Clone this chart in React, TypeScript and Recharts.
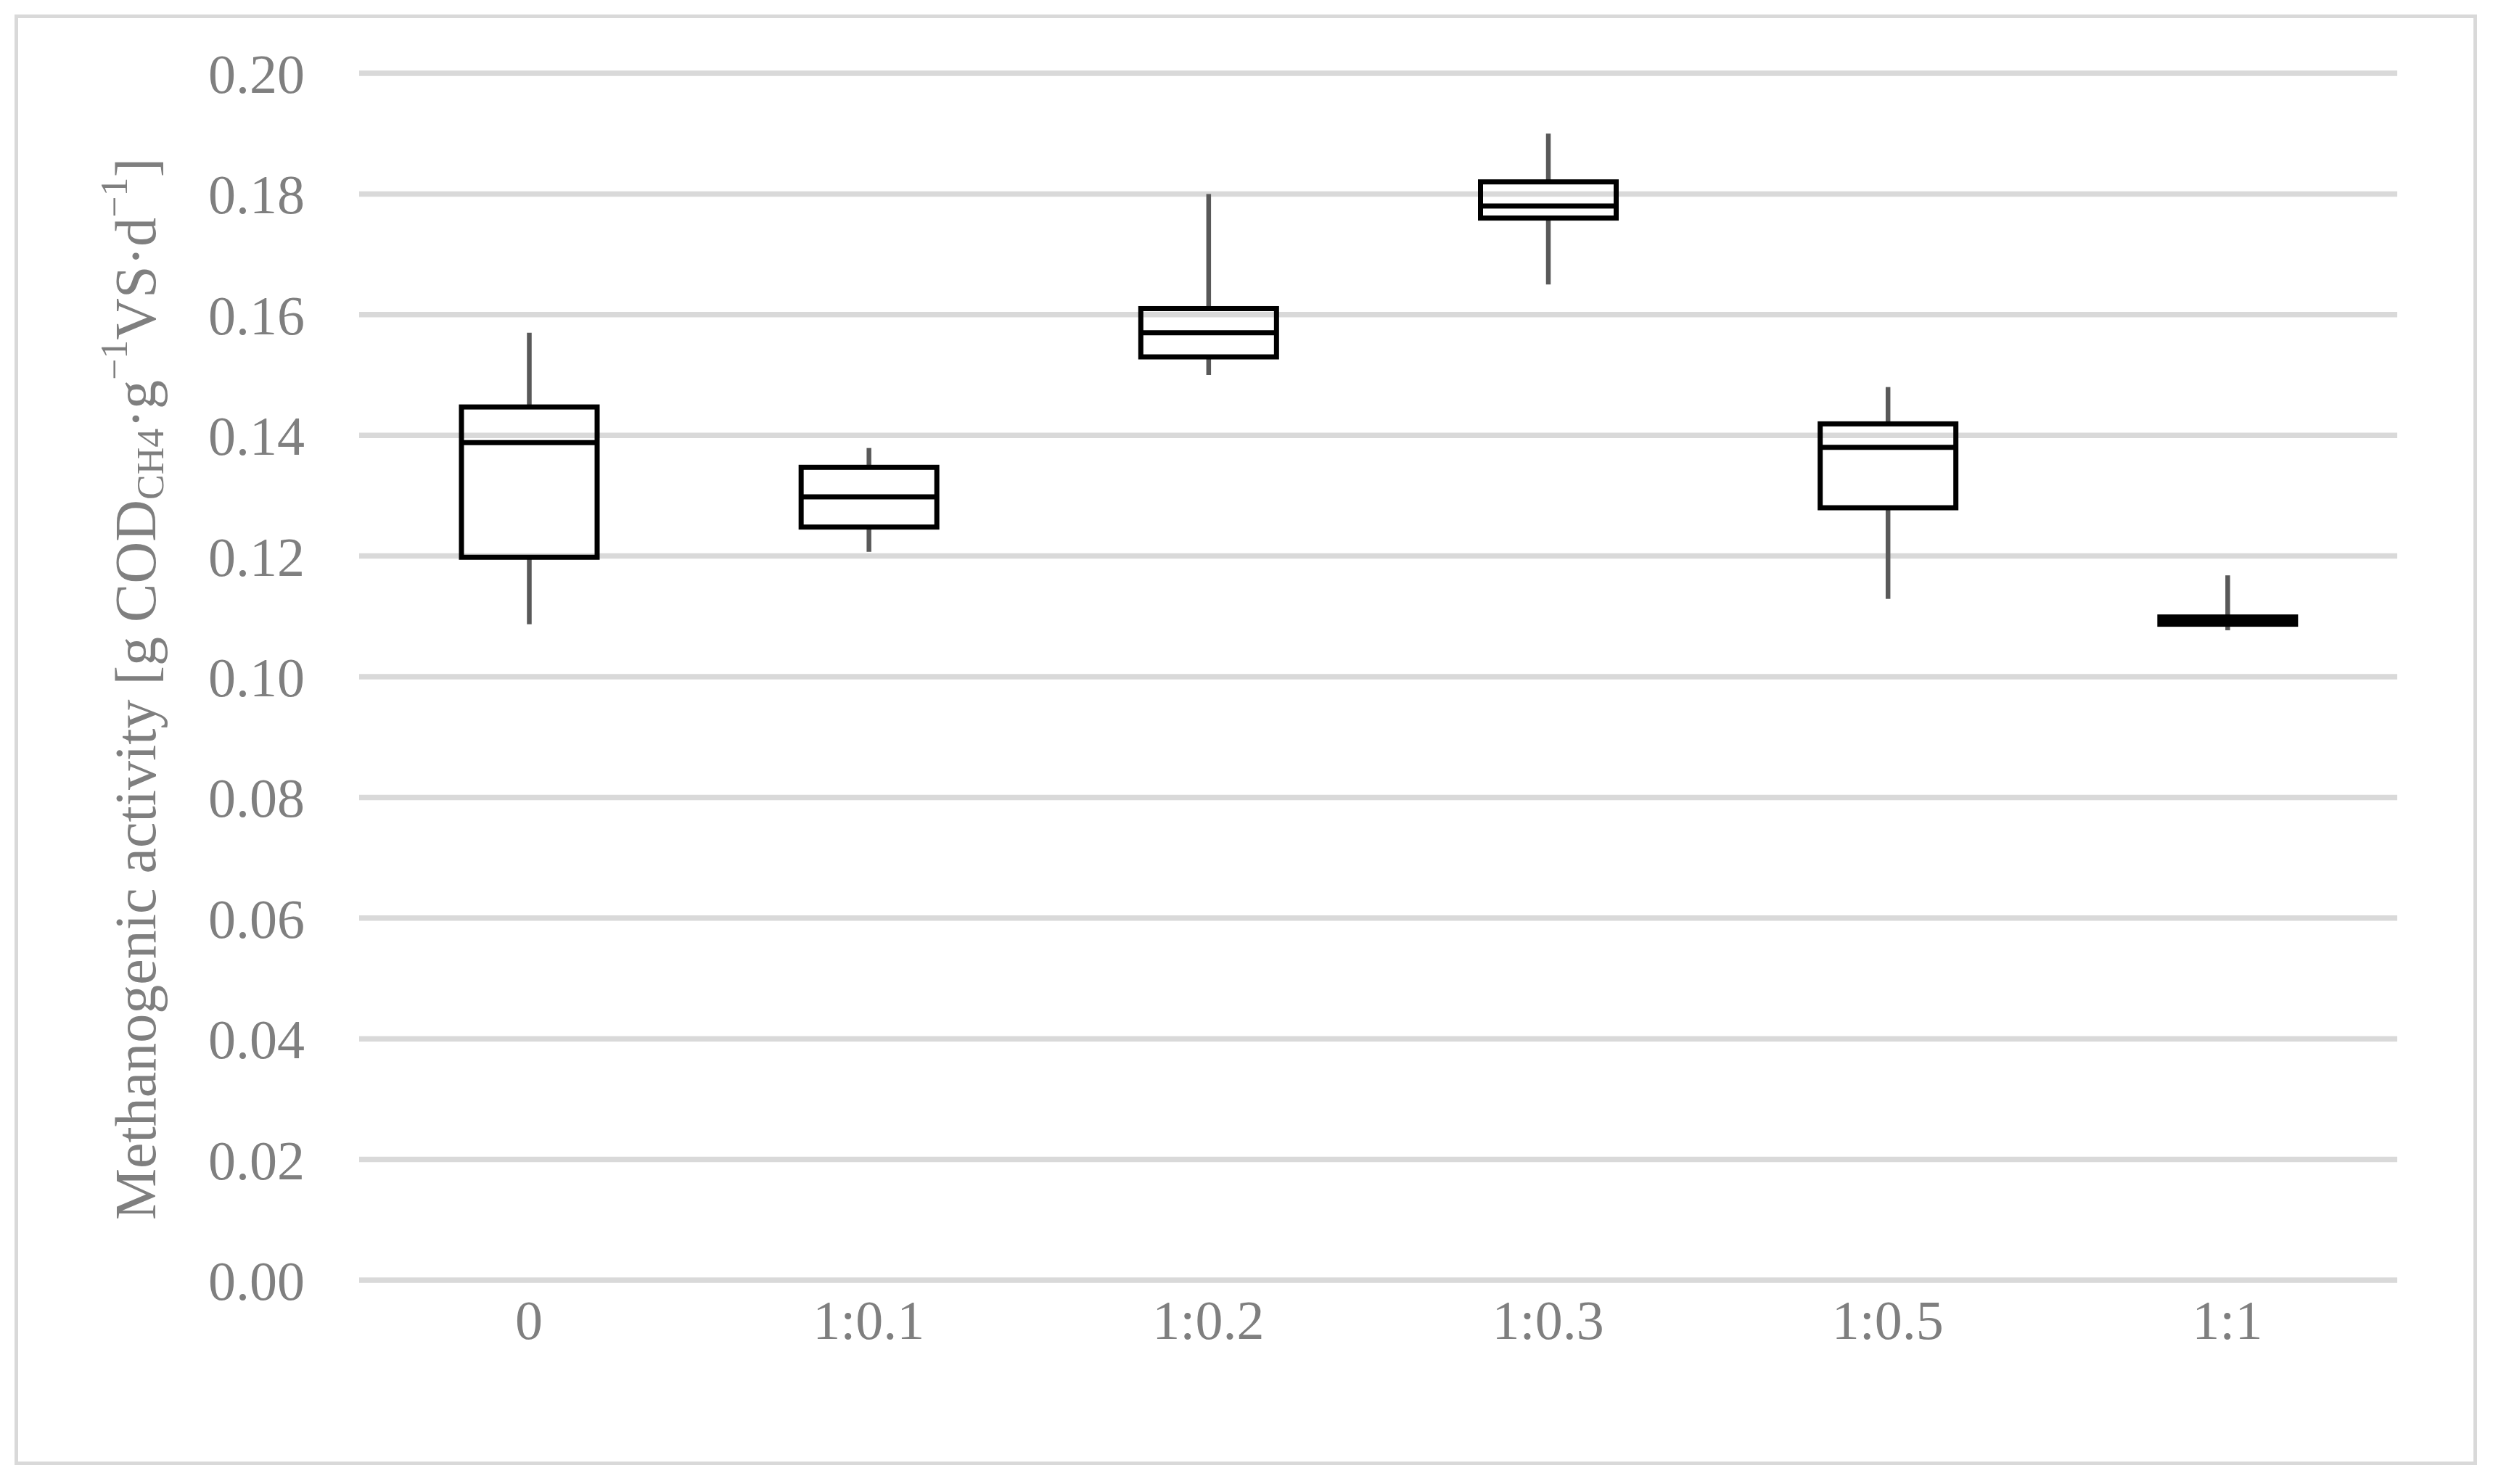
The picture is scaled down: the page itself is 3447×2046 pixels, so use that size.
import React from 'react';
import { ComposedChart, Bar, XAxis, YAxis, CartesianGrid, Label } from 'recharts';

const categories = ['0', '1:0.1', '1:0.2', '1:0.3', '1:0.5', '1:1'];
const minValues = [0.1087, 0.1207, 0.15, 0.165, 0.1129, 0.1077];
const q1Values = [0.1198, 0.1248, 0.153, 0.176, 0.128, 0.1087];
const medianValues = [0.1388, 0.1298, 0.157, 0.178, 0.138, 0.1093];
const q3Values = [0.1447, 0.1347, 0.161, 0.182, 0.1419, 0.1099];
const maxValues = [0.157, 0.1379, 0.18, 0.19, 0.148, 0.1168];
const yTicks = [0, 0.02, 0.04, 0.06, 0.08, 0.1, 0.12, 0.14, 0.16, 0.18, 0.2];

const data = categories.map((c, i) => ({
  name: c,
  min: minValues[i],
  q1: q1Values[i],
  median: medianValues[i],
  q3: q3Values[i],
  max: maxValues[i],
  box: [q1Values[i], q3Values[i]],
}));

const FONT = '"Liberation Serif", "Times New Roman", serif';
const TEXT = '#7f7f7f';

const BoxShape = (props: any) => {
  const { x, y, width, height, payload } = props;
  if (x == null || y == null || !payload) return null;
  const { min, q1, median, q3, max } = payload;
  const pxPerUnit = height / (q3 - q1);
  const yOf = (v: number) => y + (q3 - v) * pxPerUnit;
  const cx = x + width / 2;
  return (
    <g>
      <line x1={cx} x2={cx} y1={yOf(max)} y2={yOf(q3)} stroke="#595959" strokeWidth={6.5} />
      <line x1={cx} x2={cx} y1={yOf(q1)} y2={yOf(min)} stroke="#595959" strokeWidth={6.5} />
      <rect x={x} y={y} width={width} height={height} fill="none" stroke="#000" strokeWidth={7} />
      <line x1={x} x2={x + width} y1={yOf(median)} y2={yOf(median)} stroke="#000" strokeWidth={7} />
    </g>
  );
};

const renderTitle = () => (
  <text
    x={187}
    y={950}
    transform="rotate(-90, 187, 950)"
    textAnchor="middle"
    dominantBaseline="central"
    fill={TEXT}
    fontFamily={FONT}
    fontSize={80}
  >
    Methanogenic activity [g COD
    <tspan dy={20} fontSize={52}>CH4</tspan>
    <tspan dy={-20}>·g</tspan>
    <tspan dy={-30} fontSize={52}>−1</tspan>
    <tspan dy={30}>VS·d</tspan>
    <tspan dy={-30} fontSize={52}>−1</tspan>
    <tspan dy={30}>]</tspan>
  </text>
);

export default function App() {
  return (
    <div style={{ position: 'absolute', left: 0, top: 0, width: 3447, height: 2046, background: '#fff' }}>
      <div
        style={{
          position: 'absolute',
          left: 20,
          top: 20,
          width: 3384,
          height: 1990,
          border: '5px solid #d9d9d9',
        }}
      />
      <div style={{ position: 'absolute', left: 0, top: 0 }}>
        <ComposedChart
          width={3447}
          height={2046}
          data={data}
          margin={{ top: 101, right: 143, bottom: 181, left: 195 }}
        >
          <CartesianGrid vertical={false} stroke="#d9d9d9" strokeWidth={7.5} />
          <XAxis
            dataKey="name"
            height={100}
            axisLine={false}
            tickLine={false}
            tickSize={0}
            tickMargin={27}
            tick={{ fill: TEXT, fontSize: 76, fontFamily: FONT }}
          />
          <YAxis
            width={300}
            domain={[0, 0.2]}
            ticks={yTicks}
            interval={0}
            axisLine={false}
            tickLine={false}
            tickSize={0}
            tickMargin={75}
            tickFormatter={(v: number) => v.toFixed(2)}
            tick={{ fill: TEXT, fontSize: 76, fontFamily: FONT }}
          >
            <Label content={renderTitle} />
          </YAxis>
          <Bar dataKey="box" barSize={187} shape={<BoxShape />} isAnimationActive={false} />
        </ComposedChart>
      </div>
    </div>
  );
}
